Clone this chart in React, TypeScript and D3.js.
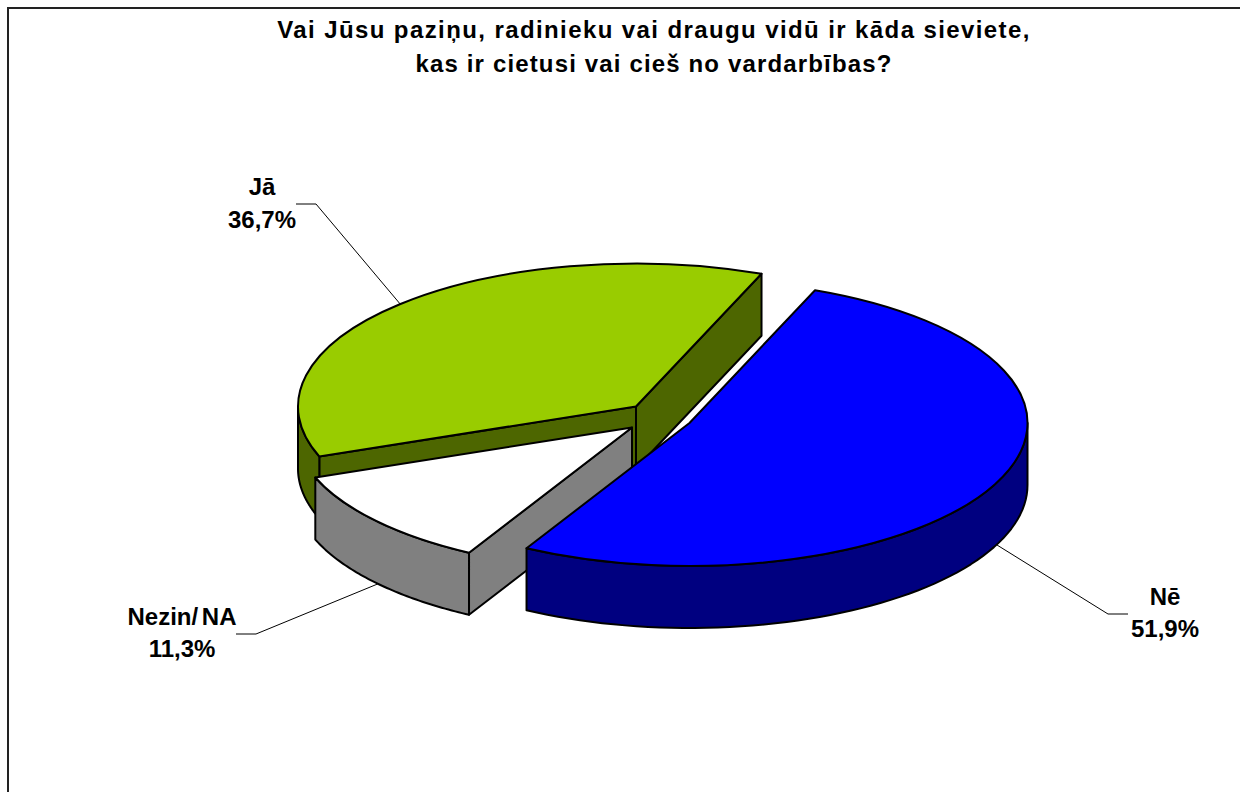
import React from "react";
import * as d3 from "d3";

const categories = ["Nē", "Nezin/ NA", "Jā"];
const shares = [51.9, 11.3, 36.7];
const shareLabels = ["51,9%", "11,3%", "36,7%"];
const topColors = ["#0000ff", "#ffffff", "#99cc00"];
const sideColors = ["#000080", "#808080", "#4d6600"];
const titleLines = [
  "Vai Jūsu paziņu, radinieku vai draugu vidū ir kāda sieviete,",
  "kas ir cietusi vai cieš no vardarbības?",
];

// each exploded slice sits on its own centre
const centers = [
  { x: 689.5, y: 423 },
  { x: 632, y: 427.5 },
  { x: 636, y: 406.5 },
];
const RX = 338;
const RY = 143;
const DEPTH = 62;
const START = (21.8 * Math.PI) / 180;
const FONT = "'Liberation Sans', Arial, sans-serif";

// where the leader lines and label text go
const labels = [
  { x: 1165, y: [605, 637], line: [[997, 545], [1108, 614], [1128, 614]] },
  { x: 182, y: [625, 657], line: [[380, 583], [256, 634], [236, 634]] },
  { x: 262, y: [195, 228], line: [[401, 305], [316, 204], [296, 204]] },
];

const pie = d3
  .pie<number>()
  .sort(null)
  .startAngle(START)
  .endAngle(START + 2 * Math.PI);
const arcs = pie(shares);
const arcGen = d3.arc<d3.PieArcDatum<number>>().innerRadius(0).outerRadius(RX);
const line = d3.line();

function rimPoint(c: { x: number; y: number }, a: number, dy = 0): [number, number] {
  return [c.x + RX * Math.sin(a), c.y - RY * Math.cos(a) + dy];
}

// front part of the rim: only angles facing the viewer (90..270 deg)
function outerWall(i: number) {
  const c = centers[i];
  const lo = Math.max(arcs[i].startAngle, Math.PI / 2);
  const hi = Math.min(arcs[i].endAngle, (3 * Math.PI) / 2);
  if (hi <= lo) return null;
  const steps = d3.range(0, 61).map((k) => lo + ((hi - lo) * k) / 60);
  const top = steps.map((a) => rimPoint(c, a));
  const bottom = steps.map((a) => rimPoint(c, a, DEPTH)).reverse();
  return line([...top, ...bottom]) + "Z";
}

function radialWall(i: number, a: number) {
  const c = centers[i];
  return (
    line([[c.x, c.y], rimPoint(c, a), rimPoint(c, a, DEPTH), [c.x, c.y + DEPTH]]) + "Z"
  );
}

function Slice({ i }: { i: number }) {
  const d = arcs[i];
  const c = centers[i];
  const outer = outerWall(i);
  const strokeProps = { stroke: "#000", strokeWidth: 2, strokeLinejoin: "round" as const };
  return (
    <g>
      {Math.sin(d.startAngle) < 0 && (
        <path d={radialWall(i, d.startAngle)} fill={sideColors[i]} {...strokeProps} />
      )}
      {Math.sin(d.endAngle) > 0 && (
        <path d={radialWall(i, d.endAngle)} fill={sideColors[i]} {...strokeProps} />
      )}
      {outer && <path d={outer} fill={sideColors[i]} {...strokeProps} />}
      <path
        d={arcGen(d) as string}
        transform={`translate(${c.x},${c.y}) scale(1,${RY / RX})`}
        fill={topColors[i]}
        vectorEffect="non-scaling-stroke"
        {...strokeProps}
      />
    </g>
  );
}

export default function App() {
  return (
    <svg
      width={1240}
      height={792}
      style={{ position: "absolute", left: 0, top: 0, background: "#fff" }}
      fontFamily={FONT}
      fontWeight="bold"
      fill="#000"
    >
      <rect x={8} y={8} width={1240} height={800} fill="#fff" stroke="#222" strokeWidth={2} />
      {titleLines.map((t, i) => (
        <text
          key={i}
          x={654}
          y={38 + i * 34}
          textAnchor="middle"
          fontSize={24}
          letterSpacing={i === 0 ? 1.4 : 1.15}
        >
          {t}
        </text>
      ))}
      {labels.map((l, i) => (
        <path key={i} d={line(l.line as [number, number][]) as string} fill="none" stroke="#000" strokeWidth={1} />
      ))}
      {/* back to front */}
      <Slice i={2} />
      <Slice i={1} />
      <Slice i={0} />
      {labels.map((l, i) => (
        <g key={categories[i]} fontSize={24} textAnchor="middle" wordSpacing={-3}>
          <text x={l.x} y={l.y[0]}>
            {categories[i]}
          </text>
          <text x={l.x} y={l.y[1]}>
            {shareLabels[i]}
          </text>
        </g>
      ))}
    </svg>
  );
}
